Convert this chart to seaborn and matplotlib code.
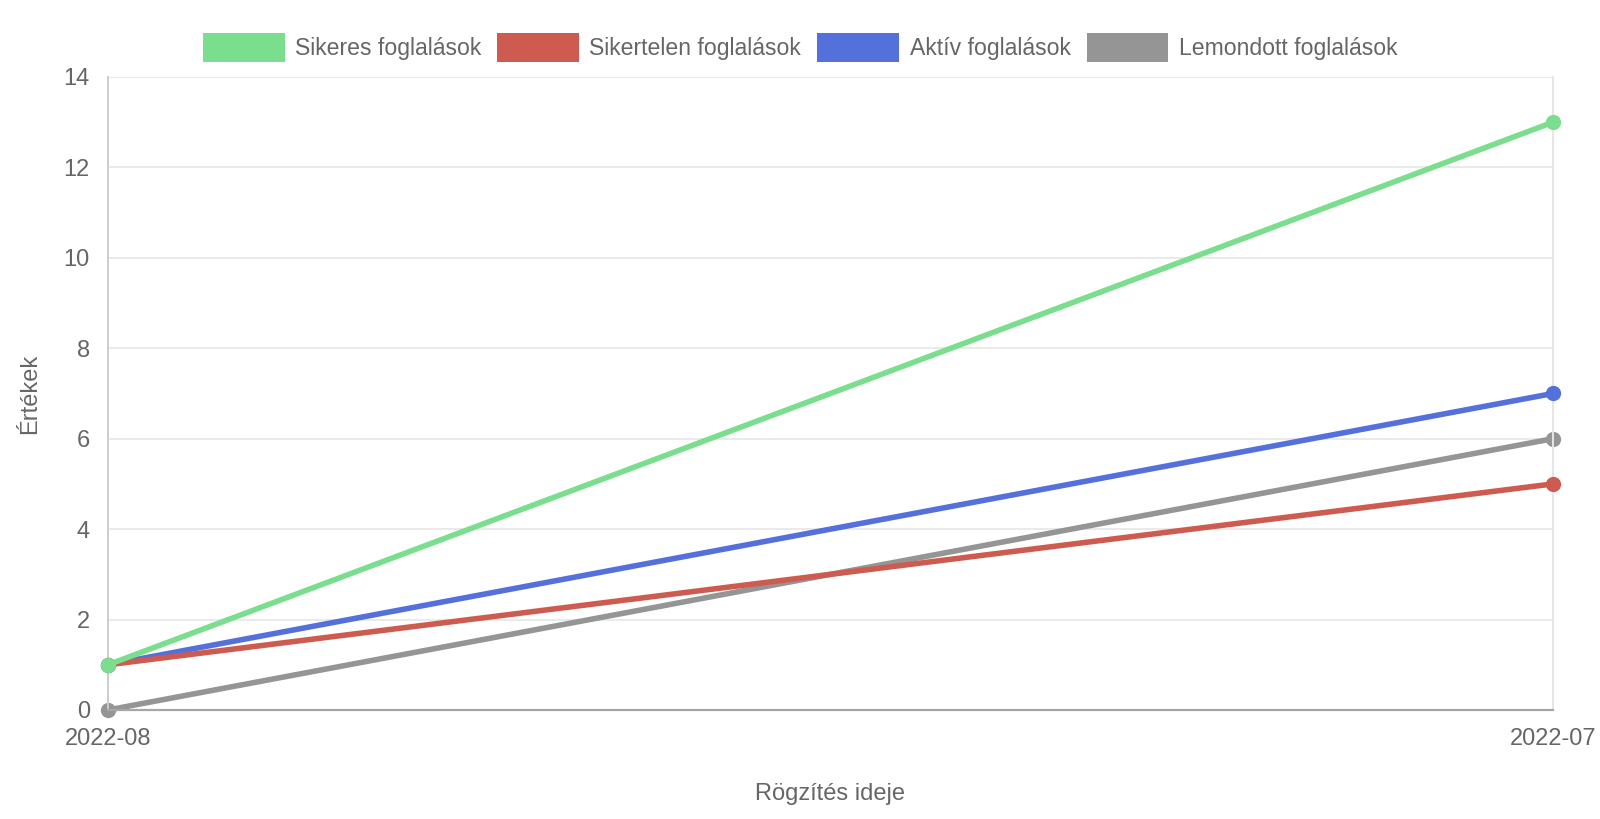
import pandas as pd
import matplotlib.pyplot as plt
import seaborn as sns
from matplotlib.patches import Patch

# Data
months = ["2022-08", "2022-07"]
sikeres = [1, 13]
sikertelen = [1, 5]
aktiv = [1, 7]
lemondott = [0, 6]

series_names = ["Sikeres foglalások", "Sikertelen foglalások",
                "Aktív foglalások", "Lemondott foglalások"]
series_values = [sikeres, sikertelen, aktiv, lemondott]
colors = ["#7ADE8E", "#CE5B4F", "#5470DA", "#959595"]

rows = []
for name, vals in zip(series_names, series_values):
    for m, v in zip(months, vals):
        rows.append({"month": m, "value": v, "series": name})
df = pd.DataFrame(rows)

sns.set_style("white")
plt.rcParams["font.family"] = ["Liberation Sans", "DejaVu Sans"]
text_color = "#666666"

fig = plt.figure(figsize=(16, 8.19), dpi=100)
ax = fig.add_axes([0.0675, 0.1331, 0.9031, 0.7729])

# first dataset drawn on top, like the original
for name, color, z in reversed(list(zip(series_names, colors, [5, 4, 3, 2]))):
    sns.lineplot(data=df[df["series"] == name], x="month", y="value",
                 color=color, linewidth=4, marker="o", markersize=11,
                 markeredgewidth=0, sort=False, ax=ax, zorder=z,
                 clip_on=False, legend=False)

ax.set_xlim(0, 1)
ax.set_ylim(0, 14)
ax.set_yticks(range(0, 15, 2))
ax.set_xticks([0, 1])
ax.set_xticklabels(months)

ax.grid(axis="y", color="#e6e6e6", linewidth=1.2, zorder=0)
ax.set_axisbelow(True)
ax.spines["top"].set_visible(False)
ax.spines["left"].set_color("#cccccc")
ax.spines["left"].set_linewidth(1.4)
ax.spines["right"].set_color("#e6e6e6")
ax.spines["right"].set_linewidth(1.4)
ax.spines["bottom"].set_color("#a6a6a6")
ax.spines["bottom"].set_linewidth(1.6)

ax.tick_params(axis="both", colors="#e0e0e0", length=8, width=1.2,
               labelsize=17, labelcolor=text_color, pad=5)

ax.set_xlabel("Rögzítés ideje", fontsize=17, color=text_color, labelpad=24)
ax.set_ylabel("Értékek", fontsize=17, color=text_color, labelpad=16)

handles = [Patch(facecolor=c, edgecolor="white", linewidth=0) for c in colors]
fig.legend(handles, series_names, loc="center", bbox_to_anchor=(0.5, 0.942),
           ncol=4, frameon=False, fontsize=16.6, labelcolor=text_color,
           handlelength=3.55, handleheight=1.55, handletextpad=0.45,
           columnspacing=0.7)

fig.savefig("out.png", dpi=100)
